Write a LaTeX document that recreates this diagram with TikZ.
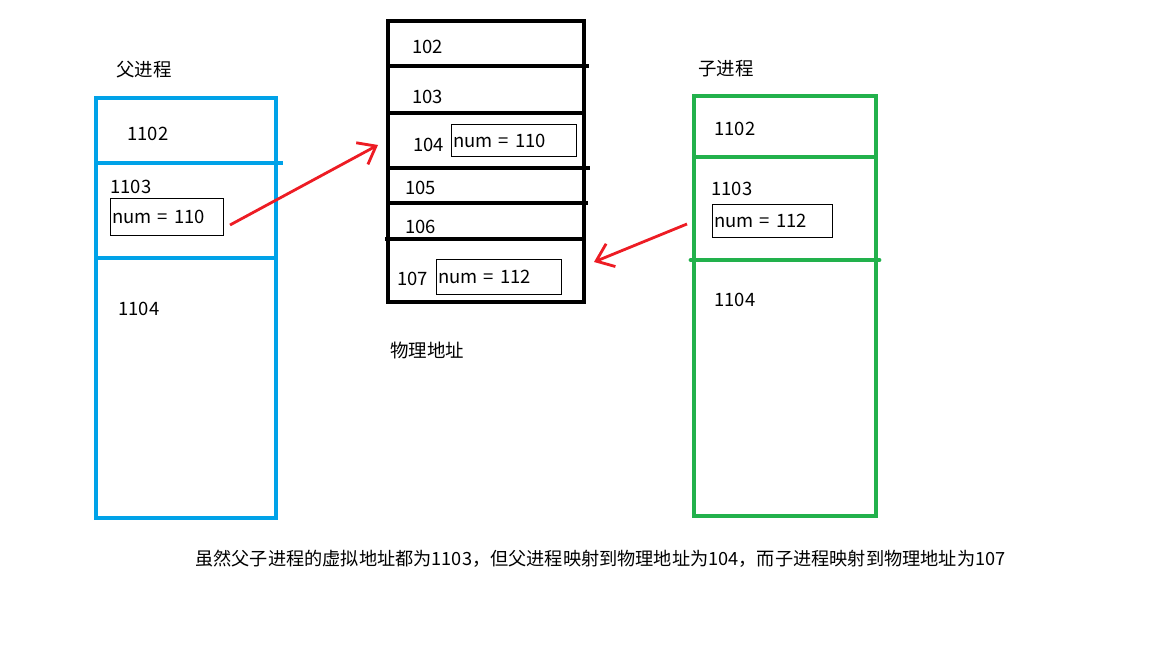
\documentclass[tikz,border=0pt]{standalone}
\usepackage{fontspec}
\setmainfont{Noto Sans CJK SC}
\usetikzlibrary{arrows.meta}
\definecolor{azzurro}{RGB}{0,162,232}
\definecolor{verde}{RGB}{34,177,76}
\definecolor{rosso}{RGB}{237,28,36}
\begin{document}
\begin{tikzpicture}[x=0.02cm, y=-0.02cm,
    every node/.style={font=\fontsize{10.5}{12}\selectfont, inner sep=0pt, anchor=west},
    numbox/.style={draw, line width=0.6pt, anchor=north west, text width=#1, inner xsep=1pt, align=left},
    muro/.style={line width=2.8pt},
    freccia/.style={rosso, line width=1.6pt, -{Straight Barb[length=9pt, width=14pt]}}]
    \useasboundingbox (0,0) rectangle (1152,648);

    %processo padre
    \node (tpadre) at (116,70) {父进程};
    \draw[muro, azzurro] (96,98) rectangle (276,518);
    \draw[muro, azzurro] (96,163)--(283,163);
    \draw[muro, azzurro] (96,258)--(276,258);
    \node (p1102) at (127,134) {1102};
    \node (p1103) at (110,187) {1103};
    \node[numbox=2.19cm, minimum height=0.74cm] (v110) at (110,198) {num = 110};
    \node (p1104) at (118,309) {1104};

    %memoria fisica
    \draw[muro] (388,21) rectangle (584,302);
    \draw[muro] (388,66)--(589,66);
    \draw[muro] (388,113)--(584,113);
    \draw[muro] (388,168)--(590,168);
    \draw[muro] (388,203)--(588,203);
    \draw[muro] (385,239)--(584,239);
    \node (m102) at (412,47) {102};
    \node (m103) at (412,97) {103};
    \node (m104) at (413,145) {104};
    \node[numbox=2.43cm, minimum height=0.64cm] (f110) at (451,124) {num = 110};
    \node (m105) at (405,188) {105};
    \node (m106) at (405,227) {106};
    \node (m107) at (397,279) {107};
    \node[numbox=2.43cm, minimum height=0.70cm] (f112) at (436,259) {num = 112};
    \node (tfisica) at (390,350) {物理地址};

    %processo figlio
    \node (tfiglio) at (698,69) {子进程};
    \draw[muro, verde] (694,96) rectangle (876,516);
    \draw[muro, verde] (694,157)--(876,157);
    \draw[muro, verde, line cap=round] (691,260)--(879,260);
    \node (c1102) at (714,129) {1102};
    \node (c1103) at (711,189) {1103};
    \node[numbox=2.33cm, minimum height=0.66cm] (v112) at (712,204) {num = 112};
    \node (c1104) at (714,300) {1104};

    % frecce di mappatura
    \coordinate (da110) at (230,225);
    \coordinate (a104) at (378,145);
    \coordinate (da112) at (687,224);
    \coordinate (a107) at (594,262);
    \draw[freccia] (da110) -- (a104);
    \draw[freccia] (da112) -- (a107);

    % didascalia
    \node[font=\fontsize{10.35}{12}\selectfont] (nota) at (195,559) {虽然父子进程的虚拟地址都为1103，但父进程映射到物理地址为104，而子进程映射到物理地址为107};
\end{tikzpicture}
\end{document}
